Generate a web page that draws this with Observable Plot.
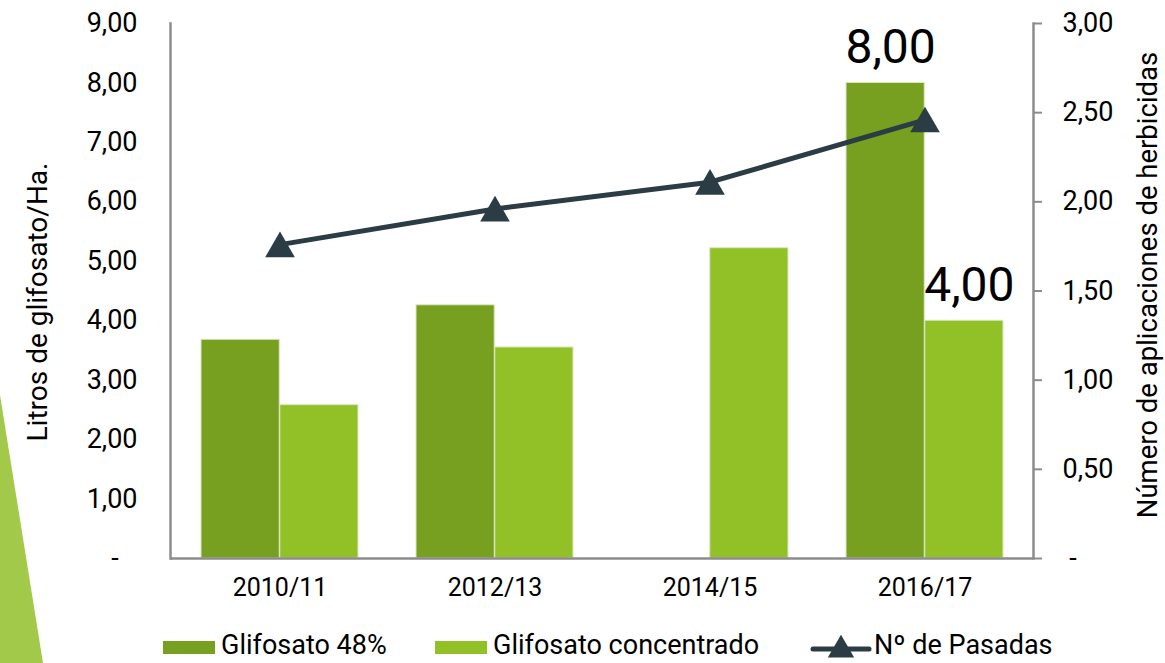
<!DOCTYPE html>
<html>
<head>
<meta charset="utf-8">
<script src="https://cdn.jsdelivr.net/npm/d3@7"></script>
<script src="https://cdn.jsdelivr.net/npm/@observablehq/plot@0.6"></script>
<style>
  body { margin: 0; background: #fff; font-family: Roboto, sans-serif; }
  #wrap { position: relative; width: 1165px; height: 663px; overflow: hidden; background: #fff; }
  #wedge { position: absolute; left: 0; top: 395px; width: 43px; height: 268px; background: #a2c94a;
           clip-path: polygon(0 0, 100% 100%, 0 100%); }
  #chart { position: absolute; left: 0; top: 0; }
  .leg { position: absolute; top: 628px; height: 34px; display: flex; align-items: center;
         font-size: 27px; color: #000; font-family: Roboto, sans-serif; white-space: nowrap; }
  .sw { width: 52px; height: 13px; margin-right: 6px; margin-top: 4px; }
</style>
</head>
<body>
<div id="wrap">
  <div id="wedge"></div>
  <div id="chart"></div>
  <div id="legend"></div>
</div>
<script>
// ---- data ----
const categories = ["2010/11", "2012/13", "2014/15", "2016/17"];
const glifosato48 = [3.68, 4.26, null, 8.00];
const glifosatoConcentrado = [2.58, 3.55, 5.22, 4.00];
const pasadas = [1.76, 1.96, 2.11, 2.46];
const seriesNames = ["Glifosato 48%", "Glifosato concentrado", "Nº de Pasadas"];
const leftTicks = [0, 1, 2, 3, 4, 5, 6, 7, 8, 9];
const rightTicks = [0, 0.5, 1, 1.5, 2, 2.5, 3];
const labelledCategory = "2016/17";
const leftTitle = "Litros de glifosato/Ha.";
const rightTitle = "Número de aplicaciones de herbicidas";

// ---- styles ----
const colors = ["#78a020", "#91c126", "#2b3c44"];
const axisGray = "#8c8c8c";
const W = 1165, H = 620, ML = 170, MR = 132, MT = 23, MB = 62;
const padInner = 0.27, padOuter = 0.135;
const step = (W - ML - MR) / (categories.length - padInner + 2 * padOuter);
const bw = step * (1 - padInner);
const ratio = 9 / 3; // left max / right max

const fmt = d => d === 0 ? "-\u00a0\u00a0\u2009" : d.toFixed(2).replace(".", ",");
const fmtR = d => d === 0 ? "\u00a0-" : d.toFixed(2).replace(".", ",");

const barsA = categories.map((c, i) => ({cat: c, v: glifosato48[i]})).filter(d => d.v != null);
const barsB = categories.map((c, i) => ({cat: c, v: glifosatoConcentrado[i]}));
const lineData = categories.map((c, i) => ({cat: c, v: pasadas[i]}));
const annA = barsA.filter(d => d.cat === labelledCategory);
const annB = barsB.filter(d => d.cat === labelledCategory);

const chart = Plot.plot({
  width: W, height: H,
  marginLeft: ML, marginRight: MR, marginTop: MT, marginBottom: MB,
  style: {fontFamily: "Roboto, sans-serif", color: "#000", background: "transparent", overflow: "visible"},
  x: {domain: categories, paddingInner: padInner, paddingOuter: padOuter, axis: null},
  y: {domain: [0, 9], axis: null},
  marks: [
    Plot.barY(barsA, {x: "cat", y: "v", fill: colors[0], insetRight: bw / 2, stroke: "#dce8c6", strokeWidth: 1}),
    Plot.barY(barsB, {x: "cat", y: "v", fill: colors[1], insetLeft: bw / 2, stroke: "#dce8c6", strokeWidth: 1}),
    Plot.frame({anchor: "left", stroke: axisGray, strokeWidth: 2.5}),
    Plot.frame({anchor: "right", stroke: axisGray, strokeWidth: 2.5}),
    Plot.ruleY([0], {stroke: axisGray, strokeWidth: 2.5}),
    Plot.axisY({anchor: "left", ticks: leftTicks, tickSize: 0, tickPadding: 33, tickFormat: fmt,
                fontSize: 27, label: null, fill: "#000"}),
    Plot.axisY({anchor: "right", ticks: rightTicks.map(t => t * ratio), tickSize: 8, tickPadding: 21,
                tickFormat: d => fmtR(d / ratio), fontSize: 27, label: null, stroke: axisGray, strokeWidth: 2, fill: "#000"}),
    Plot.axisX({anchor: "bottom", tickSize: 0, tickPadding: 20, fontSize: 25, label: null, fill: "#000"}),
    Plot.text([leftTitle], {frameAnchor: "left", textAnchor: "middle", rotate: -90, dx: -132, dy: 11, fontSize: 28, fill: "#000"}),
    Plot.text([rightTitle], {frameAnchor: "right", textAnchor: "middle", rotate: -90, dx: 115, dy: -6, fontSize: 27.5, fill: "#000"}),
    Plot.line(lineData, {x: "cat", y: d => d.v * ratio, stroke: colors[2], strokeWidth: 5}),
    Plot.dot(lineData, {x: "cat", y: d => d.v * ratio, symbol: "triangle", r: 11, fill: colors[2], dy: 4}),
    Plot.text(annA, {x: "cat", y: "v", text: d => fmt(d.v), dx: -bw / 4 + 5, dy: -20, lineAnchor: "bottom", fontSize: 48, fill: "#000"}),
    Plot.text(annB, {x: "cat", y: "v", text: d => fmt(d.v), dx: bw / 4 + 5, dy: -20, lineAnchor: "bottom", fontSize: 48, fill: "#000"})
  ]
});
document.getElementById("chart").appendChild(chart);

// ---- legend ----
const legend = document.getElementById("legend");
const legLefts = [163, 435, 810];
seriesNames.forEach((name, i) => {
  const item = document.createElement("div");
  item.className = "leg";
  item.style.left = legLefts[i] + "px";
  if (i < 2) {
    const sw = document.createElement("div");
    sw.className = "sw";
    sw.style.background = colors[i];
    item.appendChild(sw);
  } else {
    const svg = d3.create("svg").attr("width", 62).attr("height", 34).style("margin-right", "2px");
    svg.append("line").attr("x1", 3).attr("x2", 59).attr("y1", 21).attr("y2", 21)
      .attr("stroke", colors[2]).attr("stroke-width", 5).attr("stroke-linecap", "round");
    svg.append("path").attr("d", d3.symbol(d3.symbolTriangle, 300)()).attr("transform", "translate(31,22)").attr("fill", colors[2]);
    item.appendChild(svg.node());
  }
  const t = document.createElement("span");
  t.textContent = name;
  item.appendChild(t);
  legend.appendChild(item);
});
</script>
</body>
</html>
